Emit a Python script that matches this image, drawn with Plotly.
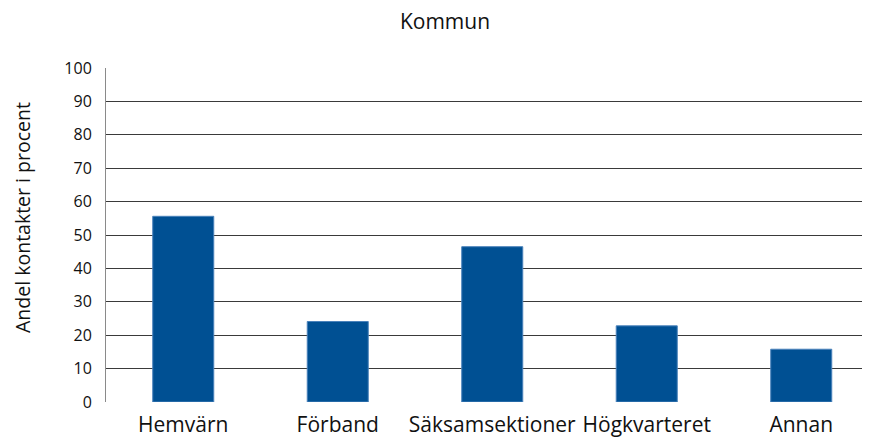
import plotly.graph_objects as go

categories = ["Hemvärn", "Förband", "Säksamsektioner", "Högkvarteret", "Annan"]
values = [55.6, 24.1, 46.5, 22.8, 15.8]
y_ticks = [0, 10, 20, 30, 40, 50, 60, 70, 80, 90, 100]

FONT = "Open Sans"
W, H = 862, 433

fig = go.Figure(go.Bar(
    x=categories, y=values,
    marker=dict(color="#005093", line=dict(color="#4a82bb", width=1)),
    hoverinfo="x+y",
))

fig.update_layout(
    width=W, height=H,
    margin=dict(l=98, r=0, t=60, b=39),
    paper_bgcolor="white", plot_bgcolor="white",
    bargap=0.605,
    showlegend=False,
    font=dict(family=FONT, color="#111111"),
    title=dict(text="Kommun", x=437/W, xanchor="center", y=1 - 14/H, yanchor="middle",
               font=dict(family=FONT, size=21, color="#111111")),
    xaxis=dict(
        range=[-0.5, 4.445],
        showgrid=False, zeroline=False, showline=False,
        tickfont=dict(family=FONT, size=21, color="#111111"),
        ticks="", ticklabelstandoff=8,
        automargin=False,
    ),
    yaxis=dict(
        range=[0, 100], tickvals=y_ticks,
        showgrid=True, gridcolor="#3a3a3a", gridwidth=1,
        zeroline=False,
        showline=True, linecolor="#8a8a8a", linewidth=1,
        tickfont=dict(family=FONT, size=16, color="#111111"),
        ticks="", ticklabelstandoff=10,
        automargin=False,
    ),
    annotations=[dict(
        text="Andel kontakter i procent", textangle=-90,
        xref="paper", yref="paper", x=0, y=0.551, xshift=-83,
        xanchor="center", yanchor="middle", showarrow=False,
        font=dict(family=FONT, size=19.5, color="#111111"),
    )],
)

fig.write_html("out.html")
